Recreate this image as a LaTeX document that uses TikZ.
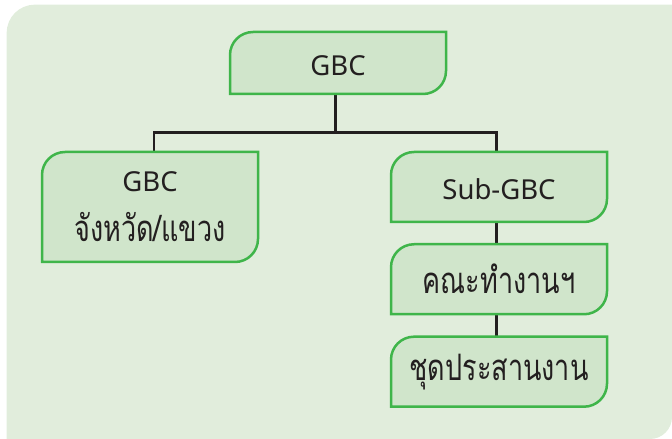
\documentclass[tikz,border=0pt]{standalone}
\usepackage{fontspec}
\setmainfont{Noto Sans}
\newfontfamily\thaifont[Script=Thai]{Loma}
\usetikzlibrary{backgrounds,calc}
\definecolor{bgc}{HTML}{E1EDDC}
\definecolor{boxfill}{HTML}{D0E5CB}
\definecolor{boxline}{HTML}{3FB54A}
\definecolor{linec}{HTML}{231F20}
\newcommand\thtext[1]{\scalebox{1}[1.35]{\thaifont\fontsize{27}{30}\selectfont #1}}
\newcommand\lowtext[1]{\raisebox{-2.5pt}[\height][\depth]{#1}}
\tikzset{
  orgbox/.style={minimum width=216pt, inner sep=0pt, outer sep=0pt, align=center,
    font=\fontsize{27.5}{50}\selectfont, text=linec},
  leafline/.style={fill=boxfill, draw=boxline, line width=2.5pt},
  conn/.style={draw=linec, line width=2.5pt},
}
\newcommand\leafpath[3]{%
  \path[#3] (#1.south west) -- ($(#1.north west)+(0,-#2)$)
    arc[start angle=180,end angle=90,radius=#2] -- (#1.north east)
    -- ($(#1.south east)+(0,#2)$)
    arc[start angle=0,end angle=-90,radius=#2] -- cycle;}
\begin{document}
\begin{tikzpicture}[x=1pt,y=1pt]
\useasboundingbox (0,0) rectangle (672,439);
\begin{scope}[on background layer]
  \path[fill=bgc] (6.7,0) -- (6.7,406.3) arc[start angle=180,end angle=90,radius=28]
    -- (672,434.3) -- (672,22) arc[start angle=0,end angle=-90,radius=22] -- cycle;
\end{scope}
\node[orgbox, minimum height=62pt] (top) at (338,376) {\lowtext{GBC}};
\node[orgbox, minimum height=110pt] (left) at (150,232) {GBC\\\thtext{จังหวัด/แขวง}};
\node[orgbox, minimum height=70pt] (sub) at (499,252) {\lowtext{Sub-GBC}};
\node[orgbox, minimum height=70pt] (kana) at (499,159.75) {\thtext{คณะทำงานฯ}};
\node[orgbox, minimum height=70pt] (chud) at (499,67.3) {\thtext{ชุดประสานงาน}};
\begin{scope}[on background layer]
  \draw[conn] ([xshift=-2.5pt]top.south) -- ++(0,-38.7) coordinate (bar);
  \draw[conn] ([xshift=4pt]left.north) |- (bar) -| ([xshift=-2.6pt]sub.north);
  \draw[conn] ([xshift=-2.6pt]sub.south) -- ([xshift=-2.6pt]kana.north);
  \draw[conn] ([xshift=-2.6pt]kana.south) -- ([xshift=-2.6pt]chud.north);
  \leafpath{top}{23pt}{leafline}
  \leafpath{left}{23pt}{leafline}
  \leafpath{sub}{23pt}{leafline}
  \leafpath{kana}{23pt}{leafline}
  \leafpath{chud}{23pt}{leafline}
\end{scope}
\end{tikzpicture}
\end{document}
